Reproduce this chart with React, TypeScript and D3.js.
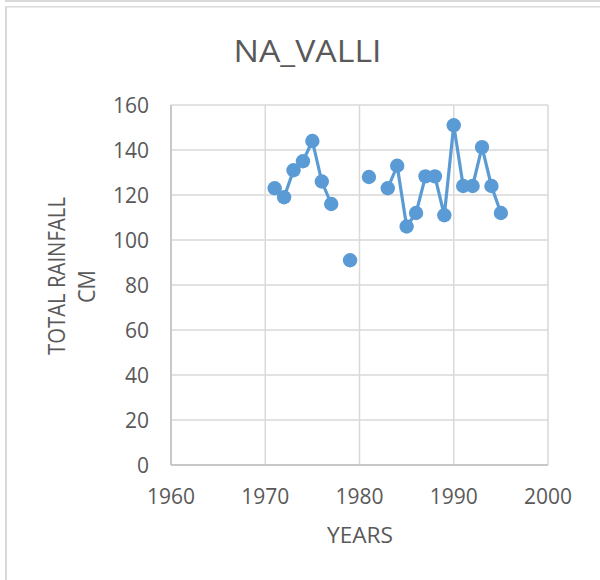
import React from "react";
import * as d3 from "d3";

const years: number[] = [1971, 1972, 1973, 1974, 1975, 1976, 1977, 1978, 1979, 1980, 1981, 1982, 1983, 1984, 1985, 1986, 1987, 1988, 1989, 1990, 1991, 1992, 1993, 1994, 1995];
const rainfall: (number | null)[] = [123, 119, 131, 135, 144, 126, 116, null, 91, null, 128, null, 123, 133, 106, 112, 128.3, 128.3, 111, 151, 124, 124, 141.3, 124, 112];
const xTicks: number[] = [1960, 1970, 1980, 1990, 2000];
const yTicks: number[] = [0, 20, 40, 60, 80, 100, 120, 140, 160];
const title = "NA_VALLI";
const xTitle = "YEARS";
const yTitleLines = ["TOTAL RAINFALL", "CM"];

const W = 600;
const H = 580;
const FONT = "'Open Sans', sans-serif";
const TEXT = "#595959";

export default function App() {
  const x = d3.scaleLinear().domain([1960, 2000]).range([171, 548]);
  const y = d3.scaleLinear().domain([0, 160]).range([465, 105]);
  const pts = years.map((yr, i) => ({ yr, v: rainfall[i] }));
  const line = d3
    .line<{ yr: number; v: number | null }>()
    .defined((d) => d.v !== null)
    .x((d) => x(d.yr))
    .y((d) => y(d.v as number));

  return (
    <svg width={W} height={H} style={{ position: "absolute", left: 0, top: 0, background: "#fff" }}>
      <rect x={0} y={0} width={W} height={H} fill="#fff" />
      <rect x={5} y={0} width={W - 5} height={2} fill="#D9D9D9" />
      <line x1={6} y1={6} x2={6} y2={H} stroke="#D9D9D9" strokeWidth={2} />
      <line x1={5} y1={6.75} x2={W} y2={6.75} stroke="#D9D9D9" strokeWidth={1.5} />

      <text x={307.5} y={62} textAnchor="middle" fontFamily={FONT} fontSize={31} fill={TEXT} textLength={148} lengthAdjust="spacingAndGlyphs">
        {title}
      </text>

      {yTicks.map((t) => (
        <line key={"gy" + t} x1={x(1960)} x2={x(2000)} y1={y(t)} y2={y(t)} stroke="#D9D9D9" strokeWidth={1.5} />
      ))}
      {xTicks.map((t) => (
        <line key={"gx" + t} x1={x(t)} x2={x(t)} y1={y(0)} y2={y(160)} stroke="#D9D9D9" strokeWidth={1.5} />
      ))}
      <line x1={x(1960)} x2={x(1960)} y1={y(0)} y2={y(160)} stroke="#BFBFBF" strokeWidth={1.5} />
      <line x1={x(1960)} x2={x(2000)} y1={y(0)} y2={y(0)} stroke="#BFBFBF" strokeWidth={1.5} />

      {yTicks.map((t) => (
        <text key={"ty" + t} x={149} y={y(t)} dy="0.36em" textAnchor="end" fontFamily={FONT} fontSize={21} fill={TEXT}>
          {t}
        </text>
      ))}
      {xTicks.map((t) => (
        <text key={"tx" + t} x={x(t)} y={504} textAnchor="middle" fontFamily={FONT} fontSize={21} fill={TEXT}>
          {t}
        </text>
      ))}

      <text x={360} y={543} textAnchor="middle" fontFamily={FONT} fontSize={22} fill={TEXT} textLength={66} lengthAdjust="spacingAndGlyphs">
        {xTitle}
      </text>
      <text transform="translate(65,276) rotate(-90)" x={0} y={0} textAnchor="middle" fontFamily={FONT} fontSize={23} fill={TEXT} textLength={158} lengthAdjust="spacingAndGlyphs">
        {yTitleLines[0]}
      </text>
      <text transform="translate(95,286.5) rotate(-90)" x={0} y={0} textAnchor="middle" fontFamily={FONT} fontSize={23} fill={TEXT} textLength={33} lengthAdjust="spacingAndGlyphs">
        {yTitleLines[1]}
      </text>

      <path d={line(pts) || ""} fill="none" stroke="#5B9BD5" strokeWidth={3.2} strokeLinejoin="round" />
      {pts
        .filter((p) => p.v !== null)
        .map((p) => (
          <circle key={"c" + p.yr} cx={x(p.yr)} cy={y(p.v as number)} r={7.2} fill="#5B9BD5" />
        ))}
    </svg>
  );
}
